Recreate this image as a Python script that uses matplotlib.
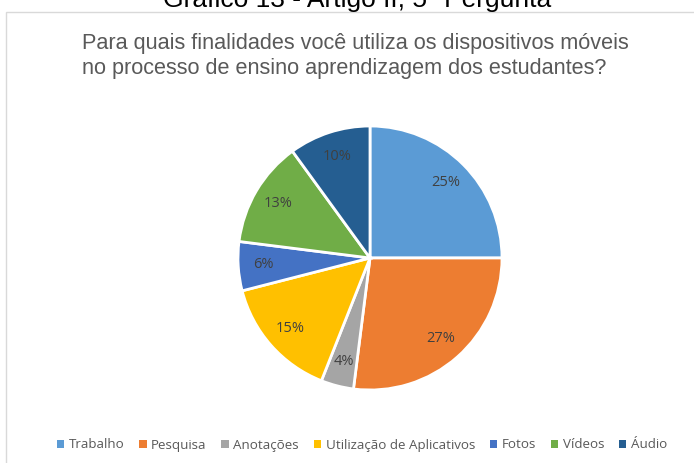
import matplotlib
matplotlib.use("Agg")
import matplotlib.pyplot as plt
from matplotlib.patches import Rectangle, Patch

categories = ["Trabalho", "Pesquisa", "Anotações", "Utilização de Aplicativos", "Fotos", "Vídeos", "Áudio"]
values = [25, 27, 4, 15, 6, 13, 10]
colors = ["#5B9BD5", "#ED7D31", "#A5A5A5", "#FFC000", "#4472C4", "#70AD47", "#255E91"]

W, H = 694, 463
fig = plt.figure(figsize=(W / 100, H / 100), dpi=100)
fig.patch.set_facecolor("white")

# chart border
fig.patches.append(Rectangle((6 / W, -0.1), 1.2, (H - 12) / H + 0.1, transform=fig.transFigure,
                             facecolor="none", edgecolor="#D9D9D9", linewidth=1.0, zorder=-5))

# outer (cut) title
fig.text(357 / W, 1 - 7 / H, "Gráfico 13 - Artigo II, 5ª Pergunta", ha="center", va="baseline",
         fontsize=19, color="black", family="Liberation Sans")

# chart title
fig.text(82 / W, 1 - 49 / H, "Para quais finalidades você utiliza os dispositivos móveis",
         ha="left", va="baseline", fontsize=15.6, color="#595959", family="Liberation Sans")
fig.text(82 / W, 1 - 74 / H, "no processo de ensino aprendizagem dos estudantes?",
         ha="left", va="baseline", fontsize=15.6, color="#595959", family="Liberation Sans")

cx, cy, r = 370, 258, 132
ax = fig.add_axes([(cx - r) / W, 1 - (cy + r) / H, 2 * r / W, 2 * r / H])
wedges, texts = ax.pie(values, colors=colors, startangle=90, counterclock=False,
                       labels=[f"{v}%" for v in values], labeldistance=0.81,
                       wedgeprops=dict(edgecolor="white", linewidth=2),
                       textprops=dict(fontsize=10.5, color="#404040", family="Open Sans"))
for t in texts:
    t.set_ha("center")
    t.set_va("center")
ax.set_aspect("equal")
ax.set_xlim(-1, 1)
ax.set_ylim(-1, 1)
ax.axis("off")

handles = [Patch(facecolor=c, edgecolor="none") for c in colors]
fig.legend(handles, categories, loc="center", bbox_to_anchor=(362 / W, 1 - 445 / H), ncol=7,
           frameon=False, handlelength=0.55, handleheight=0.55, handletextpad=0.35,
           columnspacing=1.1, prop=dict(family="Open Sans", size=9.6),
           labelcolor="#595959")

fig.savefig("out.png", dpi=100, facecolor="white")
